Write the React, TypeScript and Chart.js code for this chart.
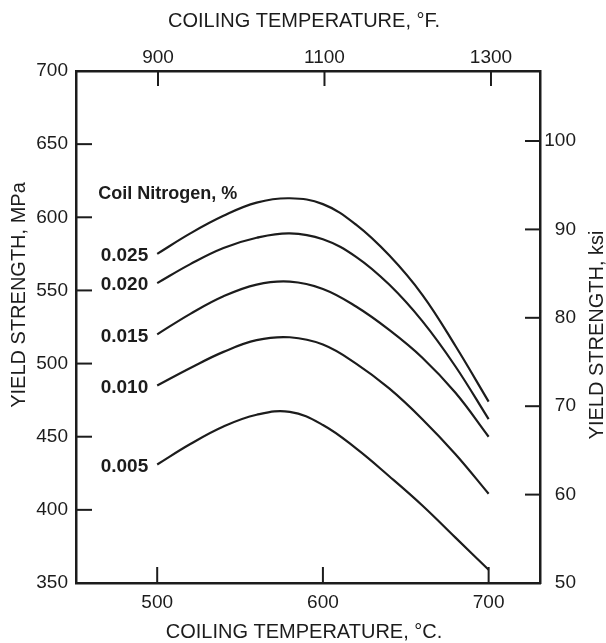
import React, { useEffect, useRef } from "react";
import { Chart, registerables } from "chart.js";

Chart.register(...registerables);

// ---- data ----
const tempC = [500, 520, 540, 560, 580, 600, 620, 640, 660, 680, 700];
const n025 = [575, 589, 601, 610, 613, 609, 595, 574, 547, 512, 474];
const n020 = [555, 568, 579, 586, 589, 585, 573, 554, 529, 498, 462];
const n015 = [520, 534, 546, 554, 556, 551, 539, 523, 504, 480, 450];
const n010 = [485, 497, 508, 516, 518, 513, 500, 483, 462, 438, 411];
const n005 = [431, 445, 457, 465, 467, 458, 442, 423, 403, 381, 359];
const nitrogenLabels = ["0.025", "0.020", "0.015", "0.010", "0.005"];
const seriesList = [n025, n020, n015, n010, n005];

const mpaTicks = [350, 400, 450, 500, 550, 600, 650, 700];
const ksiTicks = [50, 60, 70, 80, 90, 100];
const celsiusTicks = [500, 600, 700];
const fahrenheitTicks = [900, 1100, 1300];

const legendTitle = "Coil Nitrogen, %";
const legendTitleAt = { temp: 464.5, mpa: 616 };

const titleBottom = "COILING TEMPERATURE, \u00B0C.";
const titleTop = "COILING TEMPERATURE, \u00B0F.";
const titleLeft = "YIELD STRENGTH, MPa";
const titleRight = "YIELD STRENGTH, ksi";

const FONT = "'Liberation Sans', Arial, Helvetica, sans-serif";
const INK = "#1c1c1c";

const fixedTicks = (vals: number[]) => (scale: any) => {
  scale.ticks = vals.map((v) => ({ value: v }));
};
const plain = (v: any) => String(v);

const overlay = {
  id: "overlay",
  afterDraw(chart: any) {
    const { ctx, chartArea, scales } = chart;
    const { left, right, top, bottom } = chartArea;
    ctx.save();
    ctx.strokeStyle = INK;
    ctx.lineWidth = 2;
    const line = (x1: number, y1: number, x2: number, y2: number) => {
      ctx.beginPath();
      ctx.moveTo(x1, y1);
      ctx.lineTo(x2, y2);
      ctx.stroke();
    };
    // inward tick marks
    scales.x.ticks.forEach((t: any) => {
      const p = scales.x.getPixelForValue(t.value);
      line(p, bottom, p, bottom - 16);
    });
    scales.x2.ticks.forEach((t: any) => {
      const p = scales.x2.getPixelForValue(t.value);
      line(p, top, p, top + 15);
    });
    scales.y.ticks.forEach((t: any) => {
      if (t.value === scales.y.min || t.value === scales.y.max) return;
      const p = scales.y.getPixelForValue(t.value);
      line(left, p, left + 16, p);
    });
    scales.y2.ticks.forEach((t: any) => {
      if (t.value === scales.y2.min) return;
      const p = scales.y2.getPixelForValue(t.value);
      line(right, p, right - 15, p);
    });

    // axis titles
    ctx.fillStyle = INK;
    ctx.font = `20px ${FONT}`;
    ctx.textAlign = "center";
    ctx.textBaseline = "middle";
    const cx = (left + right) / 2 - 4;
    const cy = (top + bottom) / 2;
    ctx.fillText(titleTop, cx, top - 50);
    ctx.fillText(titleBottom, cx, bottom + 49);
    ctx.save();
    ctx.translate(left - 57, cy - 32);
    ctx.rotate(-Math.PI / 2);
    ctx.fillText(titleLeft, 0, 0);
    ctx.restore();
    ctx.save();
    ctx.translate(right + 57, cy + 8);
    ctx.rotate(-Math.PI / 2);
    ctx.fillText(titleRight, 0, 0);
    ctx.restore();

    // curve labels
    ctx.font = `bold 19px ${FONT}`;
    ctx.textAlign = "right";
    seriesList.forEach((s, i) => {
      const x = scales.x.getPixelForValue(tempC[0]);
      const y = scales.y.getPixelForValue(s[0]);
      ctx.fillText(nitrogenLabels[i], x - 9, y + 2);
    });
    ctx.font = `bold 18px ${FONT}`;
    ctx.textAlign = "left";
    ctx.fillText(
      legendTitle,
      scales.x.getPixelForValue(legendTitleAt.temp),
      scales.y.getPixelForValue(legendTitleAt.mpa)
    );
    ctx.restore();
  },
};

const tickFont = { family: FONT, size: 19 };

export default function App() {
  const ref = useRef<HTMLCanvasElement | null>(null);
  useEffect(() => {
    if (!ref.current) return;
    const chart = new Chart(ref.current, {
      type: "line",
      data: {
        datasets: seriesList.map((s, i) => ({
          label: nitrogenLabels[i],
          data: tempC.map((t, j) => ({ x: t, y: s[j] })),
          borderColor: INK,
          borderWidth: 2.2,
          pointRadius: 0,
          fill: false,
          tension: 0.4,
          xAxisID: "x",
          yAxisID: "y",
        })),
      },
      options: {
        animation: false,
        responsive: true,
        maintainAspectRatio: false,
        layout: { padding: { left: 0, top: 0, bottom: 0, right: 30 } },
        plugins: { legend: { display: false }, tooltip: { enabled: false } },
        scales: {
          x: {
            type: "linear",
            position: "bottom",
            min: 451,
            max: 731,
            afterBuildTicks: fixedTicks(celsiusTicks),
            afterFit: (s: any) => { s.height = 60; },
            grid: { display: false, drawTicks: false },
            border: { display: true, color: INK, width: 2.5 },
            ticks: { color: INK, font: tickFont, padding: 8, autoSkip: false, maxRotation: 0, callback: plain },
          },
          x2: {
            type: "linear",
            position: "top",
            min: 801.5,
            max: 1358.9,
            afterBuildTicks: fixedTicks(fahrenheitTicks),
            afterFit: (s: any) => { s.height = 71; },
            grid: { display: false, drawTicks: false },
            border: { display: true, color: INK, width: 2.5 },
            ticks: { color: INK, font: tickFont, padding: 2, autoSkip: false, maxRotation: 0, callback: plain },
          },
          y: {
            type: "linear",
            position: "left",
            min: 350,
            max: 700,
            afterBuildTicks: fixedTicks(mpaTicks),
            afterFit: (s: any) => { s.width = 76; },
            grid: { display: false, drawTicks: false },
            border: { display: true, color: INK, width: 2.5 },
            ticks: { color: INK, font: tickFont, padding: 8, autoSkip: false, callback: plain },
          },
          y2: {
            type: "linear",
            position: "right",
            min: 50,
            max: 107.92,
            afterBuildTicks: fixedTicks(ksiTicks),
            afterFit: (s: any) => { s.width = 36; },
            grid: { display: false, drawTicks: false },
            border: { display: true, color: INK, width: 2.5 },
            ticks: { color: INK, font: tickFont, padding: 5, autoSkip: false, crossAlign: "far", callback: plain },
          },
        },
      },
      plugins: [overlay],
    });
    return () => chart.destroy();
  }, []);
  return (
    <div style={{ position: "fixed", left: 0, top: 0, width: 606, height: 643, background: "#fff" }}>
      <canvas ref={ref} />
    </div>
  );
}
